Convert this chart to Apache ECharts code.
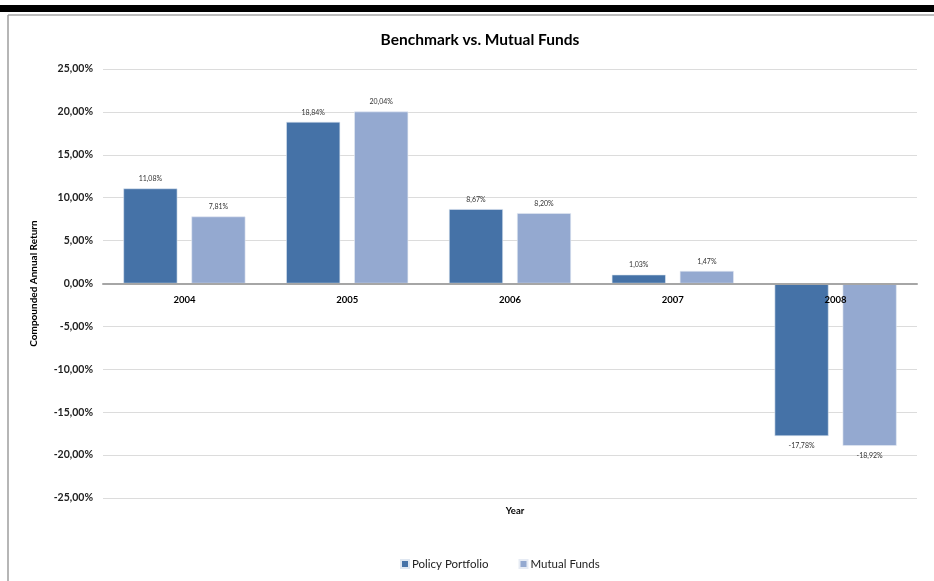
<!DOCTYPE html>
<html>
<head>
<meta charset="utf-8">
<script src="https://cdn.jsdelivr.net/npm/echarts@6/dist/echarts.min.js"></script>
<style>html,body{margin:0;padding:0;background:#fff;}#c{width:934px;height:581px;}</style>
</head>
<body>
<div id="c"></div>
<script>
const years = ['2004', '2005', '2006', '2007', '2008'];
const policyPortfolio = [11.08, 18.84, 8.67, 1.03, -17.78];
const mutualFunds = [7.81, 20.04, 8.20, 1.47, -18.92];
const seriesNames = ['Policy Portfolio', 'Mutual Funds'];
const FONT = 'Lato, "Open Sans", sans-serif';

function fmt(v) { return v.toFixed(2).replace('.', ',') + '%'; }
function toData(arr) {
  return arr.map(v => ({ value: v, label: { position: v < 0 ? 'bottom' : 'top' } }));
}

const chart = echarts.init(document.getElementById('c'));
chart.setOption({
  animation: false,
  backgroundColor: '#fff',
  graphic: [
    { type: 'rect', shape: { x: 0, y: 5, width: 934, height: 7 }, style: { fill: '#000' }, silent: true },
    { type: 'line', shape: { x1: 8, y1: 15, x2: 934, y2: 15 }, style: { stroke: '#bdbdbd', lineWidth: 2 }, silent: true },
    { type: 'line', shape: { x1: 8, y1: 15, x2: 8, y2: 581 }, style: { stroke: '#9e9e9e', lineWidth: 1.5 }, silent: true }
  ],
  title: [
    { text: 'Benchmark vs. Mutual Funds', left: 475, top: 27, textAlign: 'center',
      textStyle: { fontFamily: FONT, fontSize: 15.5, fontWeight: 'bold', color: '#000' } },
    { text: 'Year', left: 510, top: 501, textAlign: 'center',
      textStyle: { fontFamily: FONT, fontSize: 9.5, fontWeight: 'bold', color: '#000' } }
  ],
  legend: {
    data: seriesNames, left: 395, top: 553, itemWidth: 8, itemHeight: 8, itemGap: 30,
    icon: 'rect',
    textStyle: { fontFamily: FONT, fontSize: 11.5, color: '#222', padding: [0, 0, 0, -2] }
  },
  grid: { left: 103, right: 17, top: 69, bottom: 83, containLabel: false },
  xAxis: {
    type: 'category', data: years, position: 'bottom', offset: -214.5, z: 5,
    axisLine: { onZero: false, lineStyle: { color: '#a6a6a6', width: 2 } },
    axisTick: { show: false },
    axisLabel: { fontFamily: FONT, fontSize: 9.5, fontWeight: 'bold', color: '#000', margin: 11 }
  },
  yAxis: {
    type: 'value', min: -25, max: 25, interval: 5,
    name: 'Compounded Annual Return', nameLocation: 'middle', nameGap: 64,
    nameTextStyle: { fontFamily: FONT, fontSize: 10, fontWeight: 'bold', color: '#000' },
    axisLine: { show: false }, axisTick: { show: false },
    splitLine: { lineStyle: { color: '#dcdcdc', width: 1 } },
    axisLabel: { fontFamily: FONT, fontSize: 10.5, fontWeight: 'bold', color: '#222', margin: 10,
      formatter: v => fmt(v) }
  },
  series: [
    { name: seriesNames[0], type: 'bar', data: toData(policyPortfolio), barWidth: 54, barGap: '26%',
      itemStyle: { color: '#4572a7', borderColor: '#dfe7f1', borderWidth: 0.6 },
      label: { show: true, fontFamily: FONT, fontSize: 7, color: '#333', distance: 6,
        formatter: p => fmt(p.value) } },
    { name: seriesNames[1], type: 'bar', data: toData(mutualFunds), barWidth: 54, barGap: '26%',
      itemStyle: { color: '#94a9d0', borderColor: '#e6ebf4', borderWidth: 0.6 },
      label: { show: true, fontFamily: FONT, fontSize: 7, color: '#333', distance: 6,
        formatter: p => fmt(p.value) } }
  ]
});
</script>
</body>
</html>
